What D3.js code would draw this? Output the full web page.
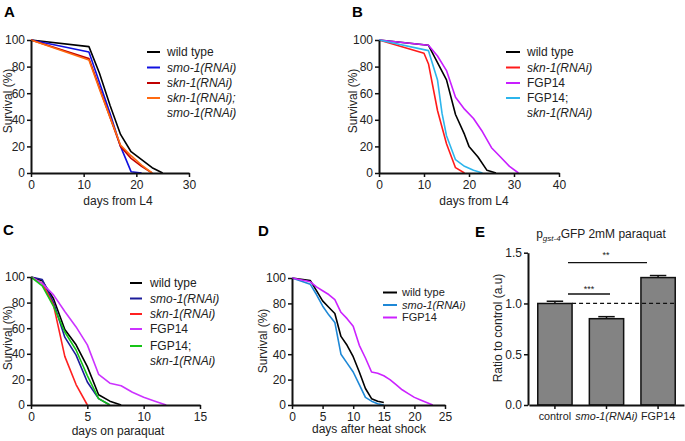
<!DOCTYPE html>
<html><head><meta charset="utf-8">
<script src="https://cdn.jsdelivr.net/npm/d3@7"></script>
<style>
body{margin:0;background:#fff}
svg text{font-family:"Liberation Sans",Arial,sans-serif;fill:#222}
</style>
</head><body>
<svg id="chart" width="685" height="441"></svg>
<script>
// ---------- DATA ----------
// Panel A (days from L4, survival %)
const aWildType   = [[0,100],[11,95],[13,75],[15,51],[17,29],[19,16],[21,10],[23,4],[25,0]];
const aSmo1       = [[0,100],[11,91],[13,68],[15,45],[17,20],[19,1],[21,0]];
const aSkn1       = [[0,100],[11,86],[13,64],[15,42],[17,20],[19,11],[21,5],[23,0]];
const aSkn1Smo1   = [[0,100],[11,85],[13,63],[15,42],[17,21],[19,13],[21,6],[23,0]];
// Panel B
const bWildType   = [[0,100],[11,96],[13,83],[15,70],[17,44],[19,29],[20,20],[22,12],[24,2],[26,0]];
const bSkn1       = [[0,100],[10,90],[11,82],[13,47],[15,22],[17,4],[19,0]];
const bFGP14      = [[0,100],[11,96],[13,88],[15,77],[17,57],[19,48],[21,41],[23,31],[25,19],[27,12],[29,5],[31,0]];
const bFGP14Skn1  = [[0,100],[11,92],[13,70],[14,45],[15,28],[17,10],[19,5],[21,2],[23,0]];
// Panel C (days on paraquat)
const cWildType   = [[0,100],[1,97],[2,83],[3,59],[4,47],[5,30],[6,8],[7,3],[8,0]];
const cSmo1       = [[0,100],[1,98],[2,80],[3,53],[4,39],[5,18],[6,5],[7,0]];
const cSkn1       = [[0,100],[1,95],[2,78],[3,38],[4,16],[5,0]];
const cFGP14      = [[0,100],[1,95],[2,86],[3,73],[4,61],[5,47],[6,24],[7,17],[8,15],[9,10],[10,6],[11,3],[12,0]];
const cFGP14Skn1  = [[0,100],[1,93],[2,77],[3,57],[4,43],[5,23],[6,5],[7,0]];
// Panel D (days after heat shock)
const dWildType   = [[0,100],[3,98],[4,90],[5,82],[6,77],[7,72],[8,54],[9,47],[10,38],[11,26],[12,13],[13,5],[14,3],[15,2]];
const dSmo1       = [[0,100],[3,95],[4,87],[5,78],[6,71],[7,65],[8,40],[9,33],[10,26],[11,16],[12,6],[13,3],[14,1],[15,0]];
const dFGP14      = [[0,100],[3,97],[4,93],[5,90],[6,87],[7,83],[8,73],[9,68],[10,62],[11,47],[12,37],[13,26],[14,25],[15,23],[16,20],[17,16],[18,12],[19,9],[20,6],[21,4],[22,2],[23,0]];
// Panel E
const eCategories = ["control","smo-1(RNAi)","FGP14"];
const eValues     = [1.0, 0.85, 1.255];
const eErrors     = [0.022, 0.02, 0.02];
const eYTicks     = [0, 0.5, 1.0, 1.5];
const survTicks   = [0,20,40,60,80,100];
const aXTicks = [0,10,20,30], bXTicks=[0,10,20,30,40], cXTicks=[0,5,10,15], dXTicks=[0,5,10,15,20,25];

// ---------- DRAW ----------
const svg = d3.select("#chart");
const FS = 12;

function legend(g, x1, x2, tx, items, fs, gap){
  items.forEach(it=>{
    g.append("line").attr("x1",x1).attr("x2",x2).attr("y1",it.y).attr("y2",it.y)
      .attr("stroke",it.color).attr("stroke-width",2);
    it.lines.forEach((ln,i)=>{
      g.append("text").attr("x",tx).attr("y",it.y + i*gap).attr("dy","0.35em")
        .attr("font-size",fs).attr("font-style",ln[1]?"italic":"normal").text(ln[0]);
    });
  });
}

function styleAxis(ax, fs){
  ax.select(".domain").attr("stroke","#111").attr("stroke-width",2);
  ax.selectAll(".tick line").attr("stroke","#111").attr("stroke-width",1.5);
  ax.selectAll(".tick text").attr("font-size",fs||FS).attr("fill","#222")
    .style("font-family","'Liberation Sans',Arial,sans-serif");
}

function survPanel(o){
  const g = svg.append("g");
  const x = d3.scaleLinear().domain([0,o.xmax]).range([o.left,o.right]);
  const y = d3.scaleLinear().domain([0,100]).range([o.bottom,o.top]);
  const line = d3.line().x(d=>x(d[0])).y(d=>y(d[1]));
  o.series.forEach(s=>{
    g.append("path").datum(s.data).attr("d",line).attr("fill","none")
      .attr("stroke",s.color).attr("stroke-width",1.6).attr("stroke-linejoin","round");
  });
  const ya = g.append("g").attr("transform",`translate(${o.left},0)`)
    .call(d3.axisLeft(y).tickValues(survTicks).tickSize(4).tickSizeOuter(0).tickPadding(2));
  const xa = g.append("g").attr("transform",`translate(0,${o.bottom})`)
    .call(d3.axisBottom(x).tickValues(o.xticks).tickSize(4).tickSizeOuter(0).tickPadding(3));
  styleAxis(ya); styleAxis(xa);
  g.append("text").attr("transform",`translate(${o.ylabX},${o.ylabY}) rotate(-90)`)
    .attr("text-anchor","middle").attr("font-size",FS).text("Survival (%)");
  g.append("text").attr("x",o.xlabX).attr("y",o.xlabY).attr("text-anchor","middle")
    .attr("font-size",FS).text(o.xlabel);
  g.append("text").attr("x",o.labX).attr("y",o.labY).attr("font-size",15)
    .attr("font-weight","bold").style("fill","#000").text(o.label);
  legend(g, o.lg[0], o.lg[1], o.lg[2], o.series.map(s=>({y:s.ly,color:s.color,lines:s.name})), o.lfs||FS, 14.5);
}

survPanel({label:"A",labX:4,labY:17,left:31,right:189,top:40,bottom:173,xmax:30,xticks:aXTicks,
  xlabel:"days from L4",xlabX:118,xlabY:205,ylabX:12,ylabY:101,lg:[147,160,167],
  series:[
    {data:aWildType,color:"#000000",name:[["wild type",0]],ly:52},
    {data:aSmo1,color:"#1010e0",name:[["smo-1(RNAi)",1]],ly:67.5},
    {data:aSkn1,color:"#c00000",name:[["skn-1(RNAi)",1]],ly:83},
    {data:aSkn1Smo1,color:"#ff6a10",name:[["skn-1(RNAi);",1],["smo-1(RNAi)",1]],ly:98}
  ]});

survPanel({label:"B",labX:352,labY:17,left:379,right:559,top:40,bottom:173,xmax:40,xticks:bXTicks,
  xlabel:"days from L4",xlabX:474,xlabY:205,ylabX:357,ylabY:101,lg:[506,520,527],
  series:[
    {data:bWildType,color:"#000000",name:[["wild type",0]],ly:52},
    {data:bSkn1,color:"#ff1a1a",name:[["skn-1(RNAi)",1]],ly:67.5},
    {data:bFGP14,color:"#c81eff",name:[["FGP14",0]],ly:83},
    {data:bFGP14Skn1,color:"#2cb5ec",name:[["FGP14;",0],["skn-1(RNAi)",1]],ly:98}
  ]});

survPanel({label:"C",labX:3,labY:235,left:31,right:200,top:277,bottom:405,xmax:15,xticks:cXTicks,
  xlabel:"days on paraquat",xlabX:118,xlabY:435,ylabX:12,ylabY:338,lg:[130,142,150],
  series:[
    {data:cWildType,color:"#000000",name:[["wild type",0]],ly:283},
    {data:cSmo1,color:"#1c1c9a",name:[["smo-1(RNAi)",1]],ly:298.5},
    {data:cSkn1,color:"#ff2020",name:[["skn-1(RNAi)",1]],ly:314},
    {data:cFGP14,color:"#cc33ff",name:[["FGP14",0]],ly:329},
    {data:cFGP14Skn1,color:"#16c416",name:[["FGP14;",0],["skn-1(RNAi)",1]],ly:346}
  ]});

survPanel({label:"D",labX:258,labY:236,left:292,right:445,top:278,bottom:405,xmax:25,xticks:dXTicks,
  xlabel:"days after heat shock",xlabX:369,xlabY:433,ylabX:267,ylabY:341,lg:[383,397,402],lfs:11,
  series:[
    {data:dWildType,color:"#000000",name:[["wild type",0]],ly:292.5},
    {data:dSmo1,color:"#1e88d6",name:[["smo-1(RNAi)",1]],ly:305},
    {data:dFGP14,color:"#cc22ff",name:[["FGP14",0]],ly:317.5}
  ]});

// Panel E
(function(){
  const g = svg.append("g");
  const left=528, right=684, top=252.7, bottom=405;
  const x = d3.scaleBand().domain(eCategories).range([left+1,right]).paddingInner(0.335).paddingOuter(0.17);
  const y = d3.scaleLinear().domain([0,1.5]).range([bottom,top]);
  const bw = x.bandwidth();
  eCategories.forEach((c,i)=>{
    const cx = x(c)+bw/2;
    g.append("line").attr("x1",cx).attr("x2",cx).attr("y1",y(eValues[i])).attr("y2",y(eValues[i]+eErrors[i]))
      .attr("stroke","#111").attr("stroke-width",1.5);
    g.append("line").attr("x1",cx-bw*0.24).attr("x2",cx+bw*0.24)
      .attr("y1",y(eValues[i]+eErrors[i])).attr("y2",y(eValues[i]+eErrors[i]))
      .attr("stroke","#111").attr("stroke-width",1.5);
    g.append("rect").attr("x",x(c)).attr("width",bw).attr("y",y(eValues[i]))
      .attr("height",bottom-y(eValues[i])).attr("fill","#838383").attr("stroke","#111").attr("stroke-width",1.5);
  });
  // dashed reference line at 1.0
  g.append("line").attr("x1",x(eCategories[0])+bw).attr("x2",x(eCategories[2])+bw)
    .attr("y1",y(1)).attr("y2",y(1)).attr("stroke","#111").attr("stroke-width",1.3)
    .attr("stroke-dasharray","4,3");
  const ya = g.append("g").attr("transform",`translate(${left},0)`)
    .call(d3.axisLeft(y).tickValues(eYTicks).tickFormat(d3.format(".1f")).tickSize(4).tickSizeOuter(0).tickPadding(2));
  const xa = g.append("g").attr("transform",`translate(0,${bottom})`)
    .call(d3.axisBottom(x).tickSize(4).tickSizeOuter(0).tickPadding(3));
  styleAxis(ya); styleAxis(xa, 10.8);
  xa.selectAll(".tick text").attr("font-style",d=>d.includes("RNAi")?"italic":"normal");
  // significance
  const s1 = g.append("g");
  s1.append("line").attr("x1",568).attr("x2",610).attr("y1",294).attr("y2",294).attr("stroke","#111").attr("stroke-width",1.3);
  s1.append("text").attr("x",589).attr("y",292).attr("text-anchor","middle").attr("font-size",9).text("***");
  s1.append("line").attr("x1",568).attr("x2",647).attr("y1",262.7).attr("y2",262.7).attr("stroke","#111").attr("stroke-width",1.3);
  s1.append("text").attr("x",606).attr("y",258).attr("text-anchor","middle").attr("font-size",9).text("**");
  // title
  const t = g.append("text").attr("x",601).attr("y",238).attr("text-anchor","middle").attr("font-size",FS);
  t.append("tspan").text("p");
  t.append("tspan").attr("font-size",8).attr("font-style","italic").attr("dy",2.5).text("gst-4");
  t.append("tspan").attr("dy",-2.5).text("GFP 2mM paraquat");
  g.append("text").attr("transform",`translate(502,328) rotate(-90)`).attr("text-anchor","middle")
    .attr("font-size",FS).text("Ratio to control (a.u)");
  g.append("text").attr("x",475).attr("y",237).attr("font-size",15).attr("font-weight","bold").style("fill","#000").text("E");
})();
</script>
</body></html>
